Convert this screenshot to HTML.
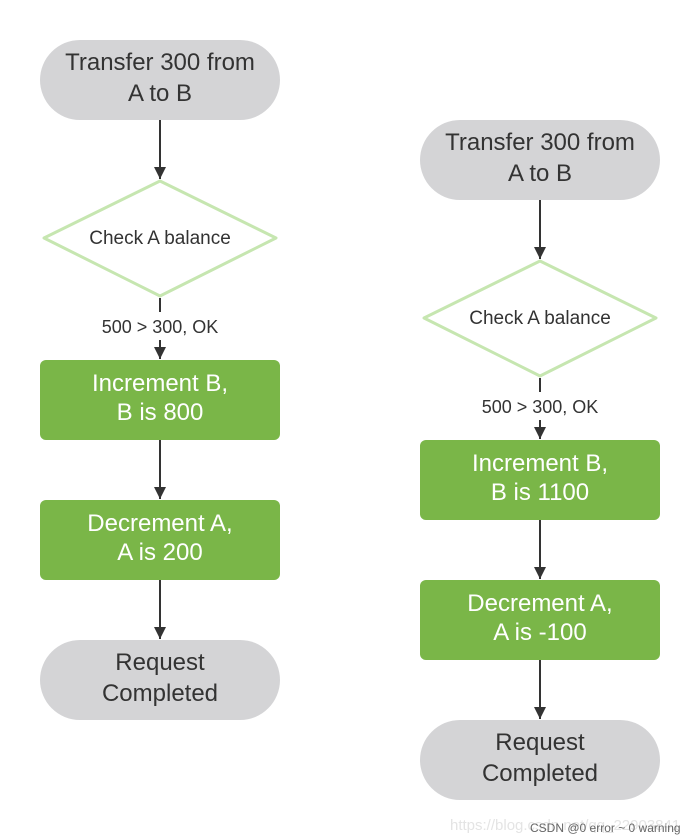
<!DOCTYPE html>
<html><head><style>body{margin:0;background:#fff}svg{display:block}</style></head><body>
<svg width="700" height="840" viewBox="0 0 700 840" xmlns="http://www.w3.org/2000/svg" font-family="Liberation Sans, sans-serif">
<defs><marker id="a" markerWidth="10" markerHeight="10" refX="9" refY="5" orient="auto" markerUnits="userSpaceOnUse"><path d="M0,0 L10,5 L0,10z" fill="#333"/></marker>
<marker id="b" markerWidth="12" markerHeight="14" refX="12" refY="6" orient="auto" markerUnits="userSpaceOnUse"><path d="M0,0 L12,6 L0,12z" fill="#333"/></marker></defs>
<g id="L">
<rect x="40" y="40" width="240" height="80" rx="40" fill="#d4d4d6"/>
<text x="160" y="70" font-size="24" fill="#333" text-anchor="middle">Transfer 300 from</text>
<text x="160" y="101" font-size="24" fill="#333" text-anchor="middle">A to B</text>
<line x1="160" y1="120" x2="160" y2="179" stroke="#333" stroke-width="2" marker-end="url(#b)"/>
<path d="M160,181 L276,238 L160,296 L44,238z" fill="#fff" stroke="#c6e6b0" stroke-width="3" stroke-linejoin="round"/>
<text x="160" y="244" font-size="19" fill="#333" text-anchor="middle">Check A balance</text>
<line x1="160" y1="298" x2="160" y2="312" stroke="#333" stroke-width="2"/>
<text x="160" y="333" font-size="18" fill="#333" text-anchor="middle">500 &gt; 300, OK</text>
<line x1="160" y1="340" x2="160" y2="359" stroke="#333" stroke-width="2" marker-end="url(#b)"/>
<rect x="40" y="360" width="240" height="80" rx="6" fill="#7ab648"/>
<line x1="160" y1="440" x2="160" y2="499" stroke="#333" stroke-width="2" marker-end="url(#b)"/>
<rect x="40" y="500" width="240" height="80" rx="6" fill="#7ab648"/>
<line x1="160" y1="580" x2="160" y2="639" stroke="#333" stroke-width="2" marker-end="url(#b)"/>
<rect x="40" y="640" width="240" height="80" rx="40" fill="#d4d4d6"/>
<text x="160" y="670" font-size="24" fill="#333" text-anchor="middle">Request</text>
<text x="160" y="701" font-size="24" fill="#333" text-anchor="middle">Completed</text>
</g>
<text x="160" y="391" font-size="24" fill="#fff" text-anchor="middle">Increment B,</text>
<text x="160" y="420" font-size="24" fill="#fff" text-anchor="middle">B is 800</text>
<text x="160" y="531" font-size="24" fill="#fff" text-anchor="middle">Decrement A,</text>
<text x="160" y="560" font-size="24" fill="#fff" text-anchor="middle">A is 200</text>
<use href="#L" transform="translate(380,80)"/>
<text x="540" y="471" font-size="24" fill="#fff" text-anchor="middle">Increment B,</text>
<text x="540" y="500" font-size="24" fill="#fff" text-anchor="middle">B is 1100</text>
<text x="540" y="611" font-size="24" fill="#fff" text-anchor="middle">Decrement A,</text>
<text x="540" y="640" font-size="24" fill="#fff" text-anchor="middle">A is -100</text>
<text x="450" y="830" font-size="15" fill="#e4e4e4">https://blog.csdn.net/qq_22903841</text>
<text x="530" y="832" font-size="12" fill="#666">CSDN @0 error ~ 0 warning</text>
</svg>
</body></html>
